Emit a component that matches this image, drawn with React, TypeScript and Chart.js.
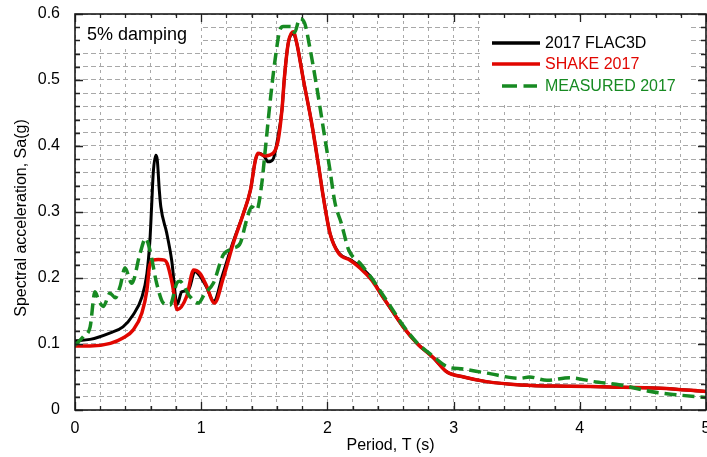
import React, { useEffect, useRef } from "react";
import { Chart, registerables } from "chart.js";

Chart.register(...registerables);

// ---- Data (period in s, spectral acceleration in g) ----
const flacPeriod = [0, 0.12, 0.28, 0.38, 0.46, 0.53, 0.57, 0.594, 0.607, 0.62, 0.64, 0.652, 0.668, 0.68, 0.727, 0.766, 0.81, 0.845, 0.9, 0.95, 0.99, 1.04, 1.1, 1.17, 1.25, 1.335, 1.39, 1.43, 1.46, 1.5, 1.53, 1.57, 1.6, 1.64, 1.66, 1.69, 1.73, 1.757, 1.81, 1.875, 1.93, 1.97, 2.02, 2.09, 2.18, 2.26, 2.35, 2.42, 2.5, 2.6, 2.71, 2.84, 2.945, 3.08, 3.26, 3.53, 3.92, 4.24, 4.64, 5.0];
const flacSa = [0.105, 0.107, 0.117, 0.126, 0.144, 0.171, 0.207, 0.258, 0.308, 0.359, 0.386, 0.379, 0.333, 0.308, 0.268, 0.227, 0.16, 0.179, 0.182, 0.21, 0.203, 0.187, 0.165, 0.205, 0.253, 0.298, 0.333, 0.379, 0.389, 0.384, 0.376, 0.38, 0.405, 0.455, 0.505, 0.556, 0.57, 0.556, 0.5, 0.435, 0.37, 0.32, 0.268, 0.238, 0.228, 0.217, 0.2, 0.177, 0.154, 0.126, 0.101, 0.079, 0.058, 0.05, 0.043, 0.038, 0.036, 0.035, 0.033, 0.028];

const shakePeriod = [0, 0.12, 0.28, 0.38, 0.46, 0.53, 0.57, 0.59, 0.62, 0.66, 0.71, 0.73, 0.77, 0.81, 0.885, 0.94, 0.99, 1.04, 1.105, 1.175, 1.255, 1.335, 1.39, 1.43, 1.45, 1.505, 1.57, 1.61, 1.64, 1.66, 1.69, 1.73, 1.757, 1.81, 1.875, 1.93, 1.97, 2.02, 2.09, 2.18, 2.26, 2.35, 2.42, 2.5, 2.6, 2.71, 2.84, 2.945, 3.08, 3.26, 3.53, 3.92, 4.24, 4.64, 5.0];
const shakeSa = [0.097, 0.097, 0.101, 0.109, 0.121, 0.147, 0.182, 0.217, 0.227, 0.228, 0.227, 0.222, 0.192, 0.152, 0.172, 0.212, 0.207, 0.189, 0.162, 0.2, 0.253, 0.298, 0.333, 0.379, 0.389, 0.385, 0.389, 0.409, 0.455, 0.505, 0.556, 0.573, 0.556, 0.5, 0.435, 0.37, 0.32, 0.268, 0.237, 0.227, 0.215, 0.197, 0.177, 0.154, 0.126, 0.101, 0.079, 0.058, 0.05, 0.043, 0.038, 0.036, 0.035, 0.033, 0.028];

const measuredPeriod = [0, 0.066, 0.12, 0.158, 0.19, 0.225, 0.277, 0.32, 0.357, 0.396, 0.45, 0.515, 0.56, 0.594, 0.647, 0.7, 0.753, 0.806, 0.83, 0.91, 0.977, 1.03, 1.096, 1.175, 1.255, 1.31, 1.36, 1.4, 1.44, 1.48, 1.505, 1.545, 1.585, 1.624, 1.65, 1.717, 1.74, 1.78, 1.82, 1.86, 1.915, 1.97, 2.02, 2.06, 2.11, 2.17, 2.26, 2.35, 2.42, 2.5, 2.6, 2.71, 2.84, 2.945, 3.08, 3.26, 3.53, 3.6, 3.74, 3.92, 4.11, 4.32, 4.56, 4.77, 5.0];
const measuredSa = [0.098, 0.111, 0.126, 0.179, 0.165, 0.157, 0.177, 0.17, 0.187, 0.215, 0.192, 0.237, 0.26, 0.242, 0.192, 0.162, 0.159, 0.192, 0.195, 0.172, 0.162, 0.177, 0.192, 0.235, 0.245, 0.253, 0.288, 0.308, 0.303, 0.343, 0.389, 0.465, 0.53, 0.576, 0.581, 0.581, 0.572, 0.593, 0.586, 0.55, 0.49, 0.424, 0.364, 0.314, 0.283, 0.242, 0.222, 0.2, 0.18, 0.157, 0.128, 0.102, 0.081, 0.066, 0.062, 0.056, 0.048, 0.05, 0.045, 0.049, 0.043, 0.038, 0.028, 0.023, 0.019];

const seriesLabels = ["2017 FLAC3D", "SHAKE 2017", "MEASURED 2017"];
const xTickLabels = ["0", "1", "2", "3", "4", "5"];
const yTickLabels = ["0", "0.1", "0.2", "0.3", "0.4", "0.5", "0.6"];
const annotationText = "5% damping";
const xTitle = "Period, T (s)";
const yTitle = "Spectral acceleration, Sa(g)";

const FONT = "'Liberation Sans', Arial, Helvetica, sans-serif";
const BLACK = "#000000";
const RED = "#e10600";
const GREEN = "#178a22";

const toPoints = (xs: number[], ys: number[]) => xs.map((x, i) => ({ x, y: ys[i] }));

const overlayPlugin = {
  id: "overlay",
  beforeDatasetsDraw(chart: any) {
    const { ctx, chartArea } = chart;
    ctx.save();
    ctx.fillStyle = "#ffffff";
    // white boxes behind annotation and legend
    ctx.fillRect(chartArea.left + 7, chartArea.top + 2, 118, 32);
    ctx.fillRect(chartArea.right - 226, chartArea.top + 2, 210, 86);
    // annotation text
    ctx.fillStyle = "#000";
    ctx.font = `18px ${FONT}`;
    ctx.textAlign = "left";
    ctx.textBaseline = "middle";
    ctx.fillText(annotationText, chartArea.left + 12, chartArea.top + 21);
    ctx.restore();
  },
  afterDatasetsDraw(chart: any) {
    const { ctx, chartArea, scales } = chart;
    const { left, right, top, bottom } = chartArea;
    ctx.save();
    // ticks (inward)
    ctx.strokeStyle = "#222";
    ctx.lineWidth = 1.3;
    ctx.setLineDash([]);
    ctx.beginPath();
    for (let i = 0; i <= 25; i++) {
      const v = i * 0.2;
      const px = Math.round(scales.x.getPixelForValue(v)) + 0.5;
      const len = i % 5 === 0 ? 8 : 4;
      ctx.moveTo(px, bottom);
      ctx.lineTo(px, bottom - len);
      ctx.moveTo(px, top);
      ctx.lineTo(px, top + len);
    }
    for (let i = 0; i <= 30; i++) {
      const v = i * 0.02;
      const py = Math.round(scales.y.getPixelForValue(v)) + 0.5;
      const len = i % 5 === 0 ? 8 : 5;
      ctx.moveTo(left, py);
      ctx.lineTo(left + len, py);
      ctx.moveTo(right, py);
      ctx.lineTo(right - len, py);
    }
    ctx.stroke();
    // border
    ctx.lineWidth = 1.6;
    ctx.strokeStyle = "#1a1a1a";
    ctx.strokeRect(left, top, right - left, bottom - top);
    ctx.restore();
  },
  afterDraw(chart: any) {
    const { ctx, chartArea } = chart;
    const x0 = chartArea.right - 214;
    const rowY = [chartArea.top + 29, chartArea.top + 50, chartArea.top + 72];
    ctx.save();
    chart.data.datasets.forEach((ds: any, i: number) => {
      const y = rowY[i];
      ctx.strokeStyle = ds.borderColor;
      ctx.lineWidth = 3.5;
      ctx.lineCap = "butt";
      if (ds.borderDash && ds.borderDash.length) {
        ctx.setLineDash([15, 6.5]);
        ctx.beginPath();
        ctx.moveTo(x0 + 10, y);
        ctx.lineTo(x0 + 45, y);
        ctx.stroke();
      } else {
        ctx.setLineDash([]);
        ctx.beginPath();
        ctx.moveTo(x0, y);
        ctx.lineTo(x0 + 48, y);
        ctx.stroke();
      }
      ctx.setLineDash([]);
      ctx.fillStyle = ds.borderColor;
      ctx.font = `16px ${FONT}`;
      ctx.textAlign = "left";
      ctx.textBaseline = "middle";
      ctx.fillText(ds.label, x0 + 53, y + 1);
    });
    // y-axis title
    ctx.translate(22, (chartArea.top + chartArea.bottom) / 2 + 6);
    ctx.rotate(-Math.PI / 2);
    ctx.fillStyle = "#000";
    ctx.font = `16px ${FONT}`;
    ctx.textAlign = "center";
    ctx.textBaseline = "middle";
    ctx.fillText(yTitle, 0, 0);
    ctx.restore();
  },
};

export default function App() {
  const canvasRef = useRef<HTMLCanvasElement | null>(null);

  useEffect(() => {
    if (!canvasRef.current) return;
    const chart = new Chart(canvasRef.current, {
      type: "line",
      data: {
        datasets: [
          {
            label: seriesLabels[0],
            data: toPoints(flacPeriod, flacSa),
            borderColor: BLACK,
            backgroundColor: BLACK,
            borderWidth: 3,
            pointRadius: 0,
            cubicInterpolationMode: "monotone",
            order: 2,
          },
          {
            label: seriesLabels[1],
            data: toPoints(shakePeriod, shakeSa),
            borderColor: RED,
            backgroundColor: RED,
            borderWidth: 3.5,
            pointRadius: 0,
            cubicInterpolationMode: "monotone",
            order: 1,
          },
          {
            label: seriesLabels[2],
            data: toPoints(measuredPeriod, measuredSa),
            borderColor: GREEN,
            backgroundColor: GREEN,
            borderWidth: 3.5,
            borderDash: [12, 6],
            pointRadius: 0,
            cubicInterpolationMode: "monotone",
            order: 0,
          },
        ],
      },
      options: {
        responsive: false,
        animation: false,
        events: [],
        layout: { padding: { top: 14, right: 1, left: 0, bottom: 0 } },
        plugins: {
          legend: { display: false },
          tooltip: { enabled: false },
        },
        scales: {
          x: {
            type: "linear",
            min: 0,
            max: 5,
            afterFit: (s: any) => {
              s.height = 47;
              s.paddingLeft = 0;
              s.paddingRight = 0;
            },
            ticks: {
              stepSize: 0.2,
              autoSkip: false,
              maxRotation: 0,
              padding: 9,
              color: "#000",
              font: { family: FONT, size: 16 },
              callback: (v: any) => {
                const n = Number(v);
                return Math.abs(n - Math.round(n)) < 1e-6 ? xTickLabels[Math.round(n)] : "";
              },
            },
            grid: { color: "#a8a8a8", lineWidth: 1, drawTicks: false },
            border: { display: false, dash: [3, 4] },
            title: {
              display: true,
              text: xTitle,
              color: "#000",
              font: { family: FONT, size: 16 },
              padding: { top: 0, bottom: 1.5 },
            },
          },
          y: {
            type: "linear",
            min: 0,
            max: 0.6,
            afterFit: (s: any) => {
              s.width = 75;
              s.paddingTop = 0;
              s.paddingBottom = 0;
            },
            ticks: {
              stepSize: 0.02,
              autoSkip: false,
              padding: 15,
              color: "#000",
              font: { family: FONT, size: 16 },
              callback: (v: any) => {
                const n = Number(v) * 10;
                return Math.abs(n - Math.round(n)) < 1e-6 ? yTickLabels[Math.round(n)] : "";
              },
            },
            grid: { color: "#a8a8a8", lineWidth: 1, drawTicks: false },
            border: { display: false, dash: [5, 3] },
            title: { display: false },
          },
        },
      },
      plugins: [overlayPlugin],
    } as any);
    return () => chart.destroy();
  }, []);

  return (
    <div style={{ position: "absolute", left: 0, top: 0, width: 707, height: 457, background: "#fff" }}>
      <canvas ref={canvasRef} width={707} height={457} style={{ display: "block" }} />
    </div>
  );
}
